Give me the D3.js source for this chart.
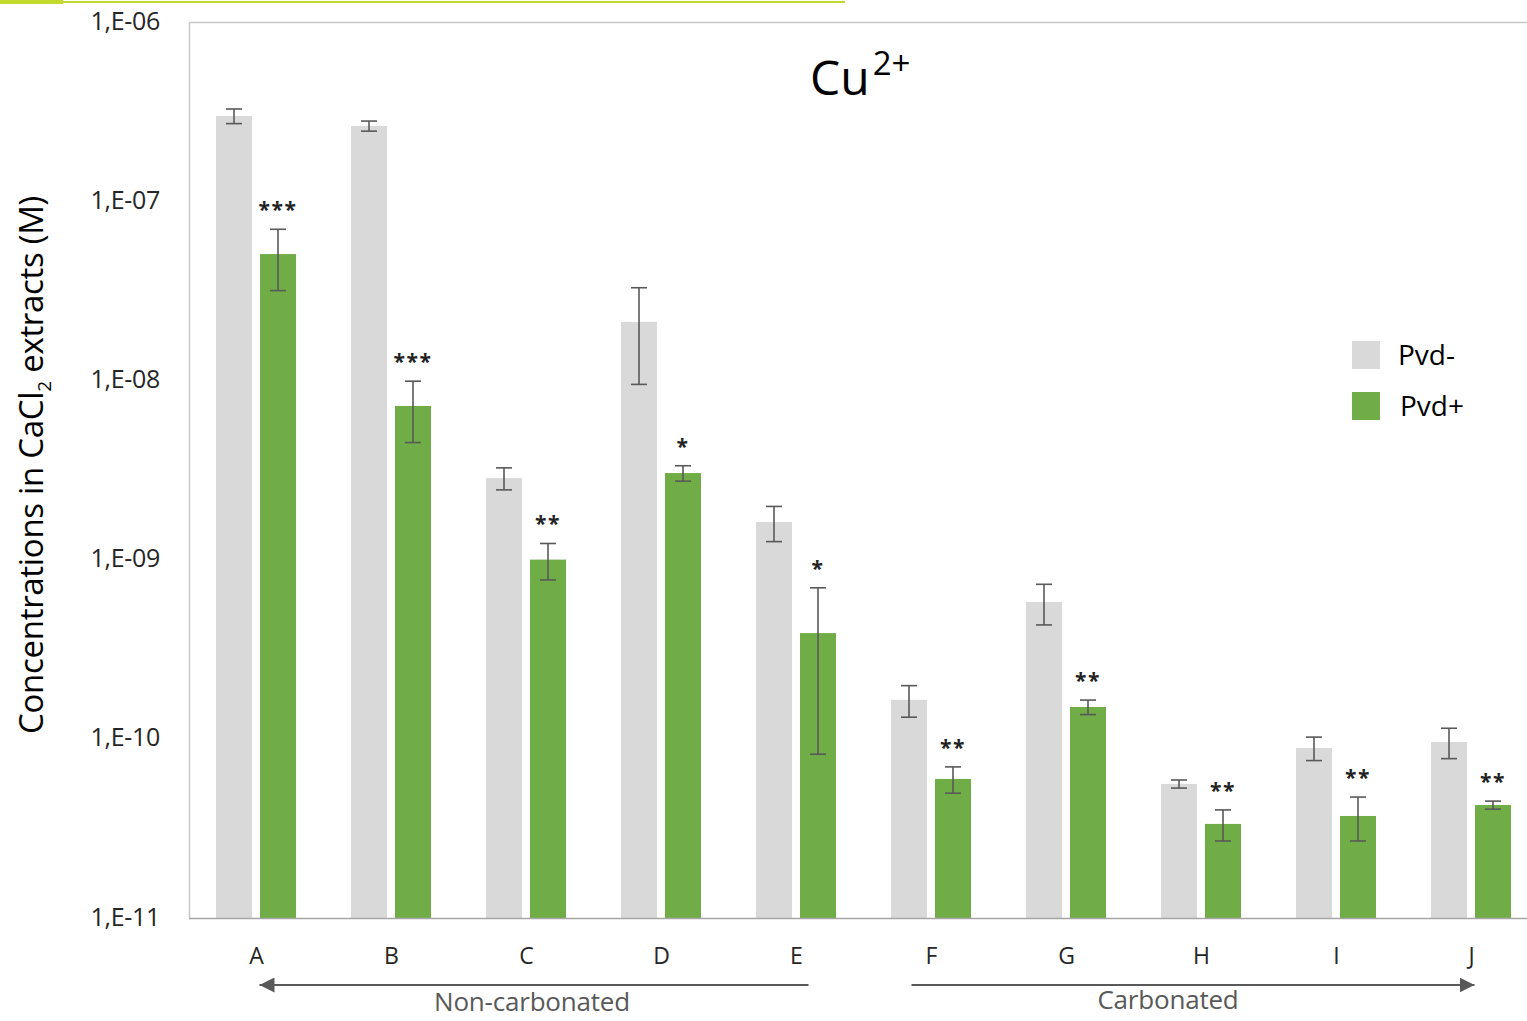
<!DOCTYPE html>
<html>
<head>
<meta charset="utf-8">
<script src="https://cdn.jsdelivr.net/npm/d3@7"></script>
<style>
  html, body { margin: 0; padding: 0; background: #fff; }
  svg { display: block; font-family: "Open Sans", Lato, sans-serif; }
</style>
</head>
<body>
<svg id="chart" width="1527" height="1021"></svg>
<script>
// Cu2+ concentrations in CaCl2 extracts, per sample, without / with pyoverdine
const categories = ["A", "B", "C", "D", "E", "F", "G", "H", "I", "J"];
const seriesNames = ["Pvd-", "Pvd+"];
const pvdMinus    = [2.99e-7, 2.63e-7, 2.85e-9, 2.12e-8, 1.62e-9, 1.65e-10, 5.80e-10, 5.60e-11, 8.89e-11, 9.60e-11];
const pvdMinusErr = [0.28e-7, 0.17e-7, 0.40e-9, 1.17e-8, 0.36e-9, 0.33e-10, 1.48e-10, 0.29e-11, 1.33e-11, 1.85e-11];
const pvdPlus     = [5.07e-8, 7.20e-9, 1.00e-9, 3.04e-9, 3.89e-10, 5.97e-11, 1.505e-10, 3.35e-11, 3.71e-11, 4.27e-11];
const pvdPlusErr  = [1.90e-8, 2.70e-9, 0.23e-9, 0.30e-9, 3.07e-10, 1.00e-11, 0.14e-10, 0.66e-11, 1.02e-11, 0.22e-11];
const significance = ["***", "***", "**", "*", "*", "**", "**", "**", "**", "**"];
const tickValues = [1e-11, 1e-10, 1e-9, 1e-8, 1e-7, 1e-6];
const tickLabels = ["1,E-11", "1,E-10", "1,E-09", "1,E-08", "1,E-07", "1,E-06"];
const groups = [
  { label: "Non-carbonated", from: "A", to: "E", dir: "left" },
  { label: "Carbonated", from: "F", to: "J", dir: "right" }
];

const colors = { "Pvd-": "#d9d9d9", "Pvd+": "#70ad47" };
const svg = d3.select("#chart");

// decorative header rule
svg.append("rect").attr("x", 0).attr("y", 1).attr("width", 845).attr("height", 2).attr("fill", "#c4d82e");
svg.append("rect").attr("x", 0).attr("y", 0).attr("width", 63).attr("height", 4).attr("fill", "#c4d82e");

const plot = { left: 189, right: 1539, top: 22, bottom: 918 };

const y = d3.scaleLog().domain([1e-11, 1e-6]).range([plot.bottom, plot.top]);
const x = d3.scaleBand().domain(categories).range([plot.left, plot.right]).padding(0);
const xs = d3.scaleBand().domain(seriesNames).range([27, 107]).paddingInner(0.1818).paddingOuter(0);

// plot frame (top and left)
svg.append("line").attr("x1", plot.left).attr("x2", 1527).attr("y1", plot.top + 0.5).attr("y2", plot.top + 0.5)
  .attr("stroke", "#c8c8c8").attr("stroke-width", 1.5);
svg.append("line").attr("x1", plot.left + 0.5).attr("x2", plot.left + 0.5).attr("y1", plot.top).attr("y2", plot.bottom)
  .attr("stroke", "#c8c8c8").attr("stroke-width", 1.5);

// y axis labels
const yAxis = d3.axisLeft(y).tickValues(tickValues).tickFormat((d, i) => tickLabels[i]).tickSize(0).tickPadding(29);
const gy = svg.append("g").attr("transform", `translate(${plot.left},0)`).call(yAxis);
gy.select(".domain").remove();
gy.selectAll("text").attr("font-size", 25).attr("fill", "#262626").attr("font-family", "'Open Sans', sans-serif")
  .attr("dy", "0.28em").style("letter-spacing", "-0.3px");

// bars
const rows = categories.map((c, i) => ({
  cat: c,
  vals: [
    { s: "Pvd-", v: pvdMinus[i], e: pvdMinusErr[i] },
    { s: "Pvd+", v: pvdPlus[i], e: pvdPlusErr[i] }
  ],
  sig: significance[i]
}));

const g = svg.append("g");
const grp = g.selectAll("g.cat").data(rows).join("g").attr("class", "cat")
  .attr("transform", d => `translate(${x(d.cat)},0)`);

grp.selectAll("rect").data(d => d.vals).join("rect")
  .attr("x", d => xs(d.s))
  .attr("width", xs.bandwidth())
  .attr("y", d => y(d.v))
  .attr("height", d => y(1e-11) - y(d.v))
  .attr("fill", d => colors[d.s]);

// error bars
const eb = grp.selectAll("g.err").data(d => d.vals).join("g").attr("class", "err")
  .attr("transform", d => `translate(${xs(d.s) + xs.bandwidth() / 2},0)`);
const errColor = "#595959";
eb.append("line").attr("x1", 0).attr("x2", 0)
  .attr("y1", d => y(d.v + d.e)).attr("y2", d => y(d.v - d.e))
  .attr("stroke", errColor).attr("stroke-width", 1.6);
eb.append("line").attr("x1", -8).attr("x2", 8)
  .attr("y1", d => y(d.v + d.e)).attr("y2", d => y(d.v + d.e))
  .attr("stroke", errColor).attr("stroke-width", 1.6);
eb.append("line").attr("x1", -8).attr("x2", 8)
  .attr("y1", d => y(d.v - d.e)).attr("y2", d => y(d.v - d.e))
  .attr("stroke", errColor).attr("stroke-width", 1.6);

// significance stars above the Pvd+ bars
grp.append("text")
  .attr("x", xs("Pvd+") + xs.bandwidth() / 2)
  .attr("y", d => y(d.vals[1].v + d.vals[1].e) - 12)
  .attr("text-anchor", "middle")
  .attr("font-size", 21)
  .attr("font-weight", "bold")
  .attr("fill", "#222")
  .style("letter-spacing", "1.5px")
  .text(d => d.sig);

// x axis baseline
svg.append("line").attr("x1", plot.left).attr("x2", 1527).attr("y1", plot.bottom + 0.5).attr("y2", plot.bottom + 0.5)
  .attr("stroke", "#a6a6a6").attr("stroke-width", 1.5);

// category labels
const xAxis = d3.axisBottom(x).tickSize(0).tickPadding(30);
const gx = svg.append("g").attr("transform", `translate(0,${plot.bottom})`).call(xAxis);
gx.select(".domain").remove();
gx.selectAll("text").attr("font-size", 23).attr("fill", "#262626").attr("font-family", "'Open Sans', sans-serif");

// group arrows
const defs = svg.append("defs");
defs.append("marker").attr("id", "arrowhead").attr("viewBox", "0 0 10 10")
  .attr("refX", 10).attr("refY", 5).attr("markerWidth", 15).attr("markerHeight", 15)
  .attr("markerUnits", "userSpaceOnUse").attr("orient", "auto")
  .append("path").attr("d", "M0,0 L10,5 L0,10 Z").attr("fill", "#595959");

const arrowY = 985;
groups.forEach(gp => {
  const cFrom = x(gp.from) + x.bandwidth() / 2;
  const cTo = x(gp.to) + x.bandwidth() / 2;
  let x1, x2;
  if (gp.dir === "left") { x1 = cTo + 12; x2 = cFrom + 3; }
  else { x1 = cFrom - 20; x2 = cTo + 3; }
  svg.append("line").attr("x1", x1).attr("x2", x2).attr("y1", arrowY).attr("y2", arrowY)
    .attr("stroke", "#595959").attr("stroke-width", 2).attr("marker-end", "url(#arrowhead)");
  svg.append("text").attr("x", gp.dir === "left" ? 532 : 1168).attr("y", gp.dir === "left" ? 1011 : 1009)
    .attr("text-anchor", "middle").attr("font-size", 26).attr("fill", "#595959")
    .style("letter-spacing", "-0.2px")
    .text(gp.label);
});

// title
const title = svg.append("text").attr("x", 810).attr("y", 95).attr("font-size", 48).attr("fill", "#000");
title.append("tspan").text("Cu");
title.append("tspan").attr("font-size", 33).attr("dy", -20).attr("dx", 3).text("2+");

// y axis title
const yt = svg.append("text").attr("transform", "translate(43,465) rotate(-90)")
  .attr("text-anchor", "middle").attr("font-size", 33).attr("fill", "#000")
  .style("letter-spacing", "-0.3px");
yt.append("tspan").text("Concentrations in CaCl");
yt.append("tspan").attr("font-size", 19).attr("dy", 8).text("2");
yt.append("tspan").attr("dy", -8).text(" extracts (M)");

// legend
const legend = svg.append("g").attr("transform", "translate(1352,341)");
seriesNames.forEach((s, i) => {
  legend.append("rect").attr("x", 0).attr("y", i * 51).attr("width", 28).attr("height", 28).attr("fill", colors[s]);
  legend.append("text").attr("x", 46 + i * 2).attr("y", i * 51 + 14).attr("dy", "0.36em")
    .attr("font-size", 28).attr("fill", "#000").text(s);
});
</script>
</body>
</html>
